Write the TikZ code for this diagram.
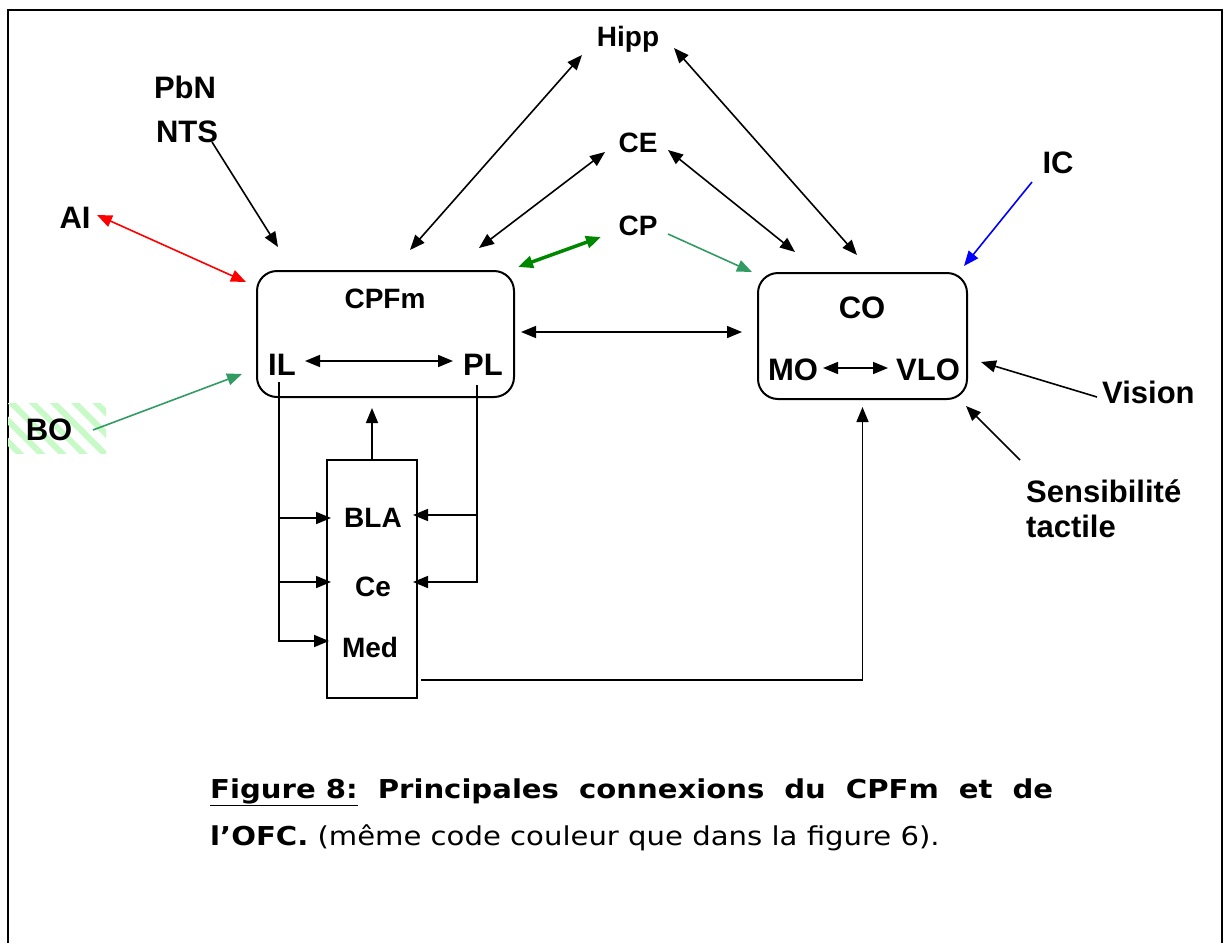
\documentclass[tikz,border=0pt]{standalone}
\usepackage{fontspec}
\setmainfont{Liberation Sans}
\newfontfamily\capfont[FakeStretch=1.12]{DejaVu Sans}
\usetikzlibrary{arrows.meta,calc,patterns.meta}

\definecolor{seagr}{RGB}{50,155,100}
\definecolor{darkgr}{RGB}{0,135,0}
\definecolor{hatchgr}{RGB}{200,250,200}

\tikzset{
  lab/.style={font=\bfseries\fontsize{28}{34}\selectfont, inner sep=0pt, anchor=base},
  labbig/.style={lab, font=\bfseries\fontsize{31}{37}\selectfont},
  region/.style={draw, line width=2pt, rounded corners=20pt},
  arr/.style={line width=1.6pt, -{Triangle[length=15pt,width=12pt]}},
  dbl/.style={line width=1.6pt, {Triangle[length=15pt,width=12pt]}-{Triangle[length=15pt,width=12pt]}},
}

\begin{document}
\begin{tikzpicture}[x=1pt,y=-1pt]
	\useasboundingbox (0,0) rectangle (1226,943);
	\draw[line width=2pt] (8,943) -- (8,10) -- (1222,10) -- (1222,943);
	\fill[pattern={Lines[angle=-45,distance=15pt,line width=6pt]}, pattern color=hatchgr] (8,403) rectangle (106,453);

	% regions
	\node[region, minimum width=257pt, minimum height=126pt] (cpfm) at (385.5,334) {};
	\node[region, minimum width=209pt, minimum height=126pt] (co) at (862.5,336) {};
	\node[draw, line width=2pt, minimum width=90pt, minimum height=238pt] (amy) at (372,579) {};

	\node[lab] (cpfmlab) at (385,308) {CPFm};
	\node[labbig] (il) at (282,375) {IL};
	\node[labbig] (pl) at (483,375) {PL};
	\node[labbig] (colab) at (862,318) {CO};
	\node[labbig] (mo) at (793,380) {MO};
	\node[labbig] (vlo) at (928,380) {VLO};
	\node[lab, anchor=center] (bla) at (373,518) {BLA};
	\node[lab, anchor=center] (cea) at (373,587) {Ce};
	\node[lab, anchor=center] (med) at (370,647) {Med};
	\node[lab] (hipp) at (628,46) {Hipp};
	\node[lab] (cent) at (638,152) {CE};
	\node[lab] (cp) at (638,235) {CP};
	\node[labbig] (pbn) at (185,98) {PbN};
	\node[labbig] (nts) at (187,142) {NTS};
	\node[labbig] (ai) at (75,228) {AI};
	\node[labbig] (bo) at (49,440) {BO};
	\node[labbig] (ic) at (1058,173) {IC};
	\node[labbig, anchor=base west] (vision) at (1102,403) {Vision};
	\node[labbig, anchor=base west] (sens) at (1026,502) {Sensibilité};
	\node[labbig, anchor=base west] (tact) at (1026,537) {tactile};

	% connexions
	\draw[dbl] ($(hipp.base)+(-46,9)$) -- ($(cpfm.north west)+(154,-20)$);
	\draw[dbl] ($(hipp.base)+(46,2)$) -- ($(co.north west)+(100,-17)$);
	\draw[dbl] ($(cent.base)+(-33,0)$) -- ($(cpfm.north west)+(223,-22)$);
	\draw[dbl] ($(cent.base)+(30,-2)$) -- ($(co.north west)+(38,-20)$);
	\draw[dbl, darkgr, line width=3.5pt] ($(cp.base)+(-37,2)$) -- ($(cpfm.north east)+(3,-3)$);
	\draw[arr, seagr] ($(cp.base)+(30,-1)$) -- ($(co.north west)+(-5,0)$);
	\draw[arr] ($(nts.base)+(25,0)$) -- ($(cpfm.north west)+(22,-23)$);
	\draw[dbl, red] ($(ai.base)+(22,-13)$) -- ($(cpfm.north west)+(-10,12)$);
	\draw[arr, seagr] ($(bo.base)+(44,-10)$) -- ($(cpfm.south west)+(-14,-24)$);
	\draw[arr, blue] ($(ic.base)+(-26,9)$) -- ($(co.north east)+(-4,-6)$);
	\draw[arr] ($(vision.base west)+(-5,-6)$) -- ($(co.east)+(13,26)$);
	\draw[arr] ($(sens.base west)+(-6,-42)$) -- ($(co.south east)+(-2,6)$);
	\draw[dbl] ($(cpfm.east)+(6,-2)$) -- ($(co.west)+(-15,-4)$);
	\draw[dbl] ($(il.base)+(23,-14)$) -- ($(pl.base)+(-30,-14)$);
	\draw[dbl] ($(mo.base)+(30,-12)$) -- ($(vlo.base)+(-40,-12)$);

	% amygdale
	\coordinate (ilx) at ($(il.base)+(-3,7)$);
	\coordinate (plx) at ($(pl.base)+(-6,10)$);
	\draw[arr] (ilx) |- ($(amy.west |- med)+(3,-6)$);
	\draw[arr] (ilx |- bla) -- ($(amy.west |- bla)+(5,0)$);
	\draw[arr] ($(ilx |- cea)+(0,-5)$) -- ($(amy.west |- cea)+(5,-5)$);
	\draw[arr] (plx) |- ($(amy.east |- cea)+(-5,-5)$);
	\draw[arr] ($(plx |- bla)+(0,-3)$) -- ($(amy.east |- bla)+(-5,-3)$);
	\draw[arr] (amy.north) -- ($(amy.north |- cpfm.south)+(0,10)$);
	\draw[arr] ($(amy.east |- med)+(3,33)$) -| ($(co.south)+(0,7)$);

	\node[anchor=base west, inner sep=0pt] (cap1) at (210,798) {\capfont\bfseries\fontsize{26}{31}\selectfont\makebox[843pt][s]{\underline{Figure 8:} Principales connexions du CPFm et de}};
	\node[anchor=base west, inner sep=0pt] (cap2) at (210,845) {\capfont\fontsize{26}{31}\selectfont\textbf{l’OFC.} (même code couleur que dans la figure 6).};
\end{tikzpicture}
\end{document}
